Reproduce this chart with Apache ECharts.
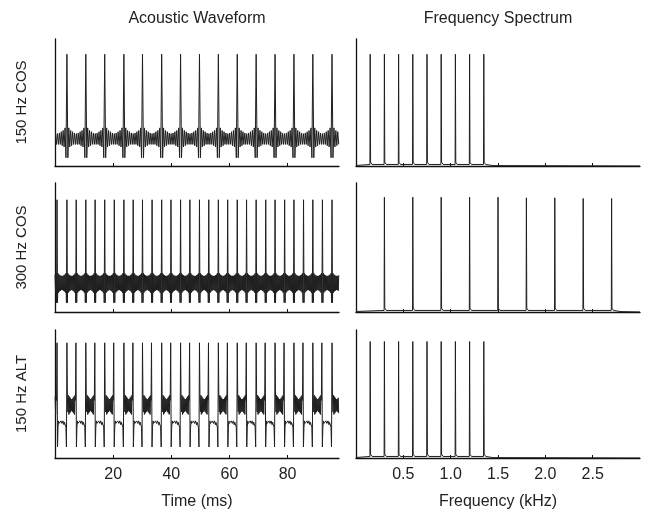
<!DOCTYPE html>
<html>
<head>
<meta charset="utf-8">
<title>Waveform and spectrum</title>
<script src="https://cdn.jsdelivr.net/npm/echarts@6/dist/echarts.min.js"></script>
<style>
  html, body { margin: 0; padding: 0; background: #fff; }
  #chart { width: 645px; height: 515px; }
</style>
</head>
<body>
<div id="chart"></div>
<script>
// rows of the figure
const rowNames = ["150 Hz COS", "300 Hz COS", "150 Hz ALT"];
const colTitles = ["Acoustic Waveform", "Frequency Spectrum"];

// time axis (ms) and frequency axis (kHz)
const timeMax = 97.7;
const timeTicks = [20, 40, 60, 80];
const freqMax = 3;
const freqTicks = [0.5, 1.0, 1.5, 2.0, 2.5];

// peak times (ms)
const peaksCos150 = [4.1, 10.6, 17.1, 23.7, 30.1, 36.7, 43.2, 49.7, 56.2, 62.7, 69.2, 75.7, 82.2, 88.7, 95.3];
const peaksCos300 = [0.7, 4.1, 7.3, 10.6, 13.8, 17.1, 20.4, 23.7, 26.9, 30.1, 33.4, 36.7, 39.9, 43.2, 46.4,
  49.7, 52.9, 56.2, 59.4, 62.7, 65.9, 69.2, 72.5, 75.7, 79.0, 82.2, 85.5, 88.7, 92.0, 95.3];
const peaksAlt150 = [0.7, 4.1, 7.2, 10.6, 13.7, 17.1, 20.2, 23.7, 26.8, 30.1, 33.2, 36.7, 39.8, 43.2, 46.3,
  49.7, 52.8, 56.2, 59.3, 62.7, 65.8, 69.2, 72.3, 75.7, 78.8, 82.2, 85.3, 88.7, 91.8, 95.3];

// one cycle of each waveform (fraction of panel height)
const cycleCos150 = [0.88, 0.065, 0.30, 0.15, 0.28, 0.16, 0.27, 0.17, 0.26, 0.17,
  0.255, 0.17, 0.26, 0.17, 0.27, 0.16, 0.28, 0.15, 0.30, 0.065];
const cycleCos300 = [0.87, 0.072, 0.30, 0.15, 0.29, 0.16, 0.285, 0.165, 0.28, 0.17,
  0.28, 0.17, 0.28, 0.165, 0.285, 0.16, 0.29, 0.15, 0.30, 0.072];
// ALT: peak B -> peak A (low "H" part), then peak A -> peak B (ripple block)
const cycleAltBA = [0.90, 0.086, 0.24, 0.29, 0.27, 0.28, 0.26, 0.28, 0.29, 0.28,
  0.27, 0.28, 0.29, 0.28, 0.26, 0.28, 0.27, 0.29, 0.24, 0.086];
const cycleAltAB = [0.90, 0.47, 0.36, 0.49, 0.34, 0.48, 0.35, 0.47, 0.36, 0.46,
  0.37, 0.46, 0.36, 0.47, 0.35, 0.48, 0.34, 0.49, 0.45];

// harmonics in the spectra (kHz) and their levels
const harm150 = [0.15, 0.30, 0.45, 0.60, 0.75, 0.90, 1.05, 1.20, 1.35];
const harm300 = [0.30, 0.60, 0.90, 1.20, 1.50, 1.80, 2.10, 2.40, 2.70];
const levelCos150 = [0.88, 0.88, 0.88, 0.88, 0.88, 0.88, 0.88, 0.88, 0.88];
const levelCos300 = [0.89, 0.89, 0.89, 0.89, 0.89, 0.885, 0.885, 0.88, 0.88];
const levelAlt150 = [0.91, 0.91, 0.91, 0.91, 0.91, 0.91, 0.91, 0.91, 0.91];

// lay the read cycles between the read peak times
function buildWave(peaks, cycles) {
  const L = cycles.length;
  const n = peaks.length;
  const pts = [];
  const all = [peaks[0] - (peaks[L] - peaks[L - 1])].concat(peaks,
    [peaks[n - 1] + (peaks[n - L] - peaks[n - L - 1])]);
  for (let j = 0; j < all.length - 1; j++) {
    const a = all[j], b = all[j + 1];
    const cyc = cycles[((j - 1) % L + L) % L];
    const step = (b - a) / cyc.length;
    for (let k = 0; k < cyc.length; k++) {
      const t = a + k * step;
      if (t >= 0 && t <= timeMax) pts.push([t, cyc[k]]);
    }
  }
  return pts;
}

function buildSpectrum(harm, level) {
  const floor = 0.012;
  const pts = [[0, 0.004]];
  harm.forEach(function (f, i) {
    pts.push([f - 0.003, floor], [f, level[i]], [f + 0.004, 0.03], [f + 0.02, floor]);
  });
  const last = harm[harm.length - 1];
  pts.push([last + 0.1, 0.003], [freqMax, 0]);
  return pts;
}

const waves = [
  buildWave(peaksCos150, [cycleCos150]),
  buildWave(peaksCos300, [cycleCos300]),
  buildWave(peaksAlt150, [cycleAltBA, cycleAltAB])
];
const spectra = [
  buildSpectrum(harm150, levelCos150),
  buildSpectrum(harm300, levelCos300),
  buildSpectrum(harm150, levelAlt150)
];

const font = "'Liberation Sans', Arial, sans-serif";
const ink = "#1f1f1f";
const rowTop = [39, 183, 330];
const rowHeight = [127, 129, 128];

const grids = [], xAxes = [], yAxes = [], series = [];
for (let r = 0; r < 3; r++) {
  for (let c = 0; c < 2; c++) {
    const idx = grids.length;
    const isWave = c === 0;
    const bottomRow = r === 2;
    grids.push({ left: isWave ? 55 : 356, top: rowTop[r], width: 284, height: rowHeight[r] });
    xAxes.push({
      type: "value",
      gridIndex: idx,
      min: 0,
      max: isWave ? timeMax : freqMax,
      name: bottomRow ? (isWave ? "Time (ms)" : "Frequency (kHz)") : "",
      nameLocation: "middle",
      nameGap: 36,
      nameTextStyle: { fontFamily: font, fontSize: 16, color: "#222" },
      axisLine: { show: true, onZero: false, lineStyle: { color: "#111", width: 1.3 } },
      axisTick: {
        show: true, inside: true, length: 3,
        customValues: isWave ? timeTicks : freqTicks,
        lineStyle: { color: "#111", width: 1 }
      },
      axisLabel: {
        show: bottomRow,
        customValues: isWave ? timeTicks : freqTicks,
        margin: 9,
        fontFamily: font, fontSize: 16, color: "#222",
        formatter: function (v) { return isWave ? String(v) : v.toFixed(1); }
      },
      splitLine: { show: false }
    });
    yAxes.push({
      type: "value",
      gridIndex: idx,
      min: 0,
      max: 1,
      name: isWave ? rowNames[r] : "",
      nameLocation: "middle",
      nameGap: 26,
      nameTextStyle: { fontFamily: font, fontSize: 15, color: "#222" },
      axisLine: { show: true, onZero: false, lineStyle: { color: "#111", width: 1.3 } },
      axisTick: { show: false },
      axisLabel: { show: false },
      splitLine: { show: false }
    });
    series.push({
      type: "line",
      xAxisIndex: idx,
      yAxisIndex: idx,
      data: isWave ? waves[r] : spectra[r],
      showSymbol: false,
      silent: true,
      lineStyle: { color: ink, width: 1 },
      animation: false
    });
  }
}

const chart = echarts.init(document.getElementById("chart"), null, { renderer: "canvas" });
chart.setOption({
  backgroundColor: "#fff",
  animation: false,
  graphic: [
    { type: "text", x: 197, y: 19,
      style: { text: colTitles[0], align: "center", verticalAlign: "middle",
        font: "16px " + font, fill: "#222" } },
    { type: "text", x: 498, y: 19,
      style: { text: colTitles[1], align: "center", verticalAlign: "middle",
        font: "16px " + font, fill: "#222" } }
  ],
  grid: grids,
  xAxis: xAxes,
  yAxis: yAxes,
  series: series
});
</script>
</body>
</html>
